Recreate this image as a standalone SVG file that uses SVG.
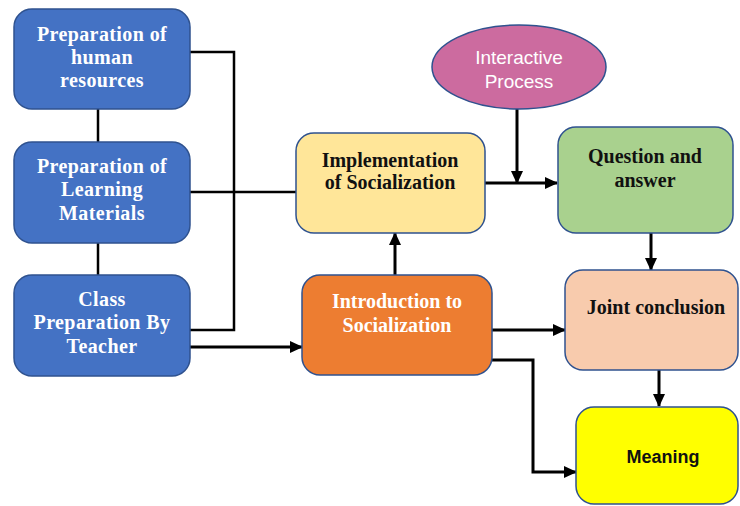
<svg xmlns="http://www.w3.org/2000/svg" width="740" height="506" viewBox="0 0 740 506">
<style>
.box{stroke:#2F528F;stroke-width:1.5}
.blue{fill:#4472C4}
.t{font-family:"Liberation Serif","Times New Roman",serif;font-weight:bold;font-size:20px;text-anchor:middle}
.w{fill:#FFFFFF}
.k{fill:#111111}
.s{font-family:"Liberation Sans",Arial,sans-serif;text-anchor:middle}
.ln{fill:none;stroke:#000;stroke-width:2.5}
.ar{fill:none;stroke:#000;stroke-width:3;marker-end:url(#ah)}
</style>
<defs>
<marker id="ah" markerUnits="userSpaceOnUse" markerWidth="14" markerHeight="12" refX="12" refY="6" orient="auto">
<path d="M0,0 L13,6 L0,12 Z" fill="#000"/>
</marker>
</defs>
<rect width="740" height="506" fill="#FFFFFF"/>
<g id="connectors">
<path class="ln" d="M98,109 V142"/>
<path class="ln" d="M98,243 V275"/>
<path class="ln" d="M190,52 H234 V330 H190"/>
<path class="ln" d="M190,192 H296"/>
<path class="ar" d="M190,347 H302"/>
<path class="ar" d="M395,275 V233"/>
<path class="ar" d="M485,183 H557"/>
<path class="ar" d="M517,109 V183"/>
<path class="ar" d="M651,233 V270"/>
<path class="ar" d="M492,330 H565"/>
<path class="ar" d="M492,360 H533 V472 H576"/>
<path class="ar" d="M659,370 V406"/>
</g>
<g id="human">
<rect class="box blue" x="14" y="9" width="176" height="100" rx="18"/>
<text class="t w" x="102" y="41" letter-spacing="0.4">Preparation of</text>
<text class="t w" x="102" y="64" letter-spacing="0.4">human</text>
<text class="t w" x="102" y="87" letter-spacing="0.4">resources</text>
</g>
<g id="learning">
<rect class="box blue" x="14" y="142" width="176" height="101" rx="18"/>
<text class="t w" x="102" y="173" letter-spacing="0.4">Preparation of</text>
<text class="t w" x="102" y="196" letter-spacing="0.4">Learning</text>
<text class="t w" x="102" y="220" letter-spacing="0.4">Materials</text>
</g>
<g id="class">
<rect class="box blue" x="14" y="275" width="176" height="101" rx="18"/>
<text class="t w" x="102" y="306" letter-spacing="0.4">Class</text>
<text class="t w" x="102" y="329" letter-spacing="0.4">Preparation By</text>
<text class="t w" x="102" y="353" letter-spacing="0.4">Teacher</text>
</g>
<g id="implementation">
<rect class="box" fill="#FFE699" x="296" y="133" width="189" height="100" rx="18"/>
<text class="t k" x="390" y="167">Implementation</text>
<text class="t k" x="390" y="189">of Socialization</text>
</g>
<g id="interactive">
<ellipse class="box" fill="#CC6B9F" cx="519" cy="67" rx="87" ry="42"/>
<text class="s w" font-size="19" x="519" y="64">Interactive</text>
<text class="s w" font-size="19" x="519" y="88">Process</text>
</g>
<g id="question">
<rect class="box" fill="#A9D18E" x="558" y="127" width="175" height="106" rx="18"/>
<text class="t k" x="645" y="163">Question and</text>
<text class="t k" x="645" y="187">answer</text>
</g>
<g id="introduction">
<rect class="box" fill="#ED7D31" x="302" y="275" width="190" height="100" rx="18"/>
<text class="t w" x="397" y="308">Introduction to</text>
<text class="t w" x="397" y="332">Socialization</text>
</g>
<g id="joint">
<rect class="box" fill="#F8CBAD" x="565" y="270" width="173" height="100" rx="18"/>
<text class="t k" x="656" y="314">Joint conclusion</text>
</g>
<g id="meaning">
<rect class="box" fill="#FFFF00" x="576" y="407" width="162" height="97" rx="18"/>
<text class="s k" font-size="18" font-weight="bold" x="663" y="463">Meaning</text>
</g>
</svg>
